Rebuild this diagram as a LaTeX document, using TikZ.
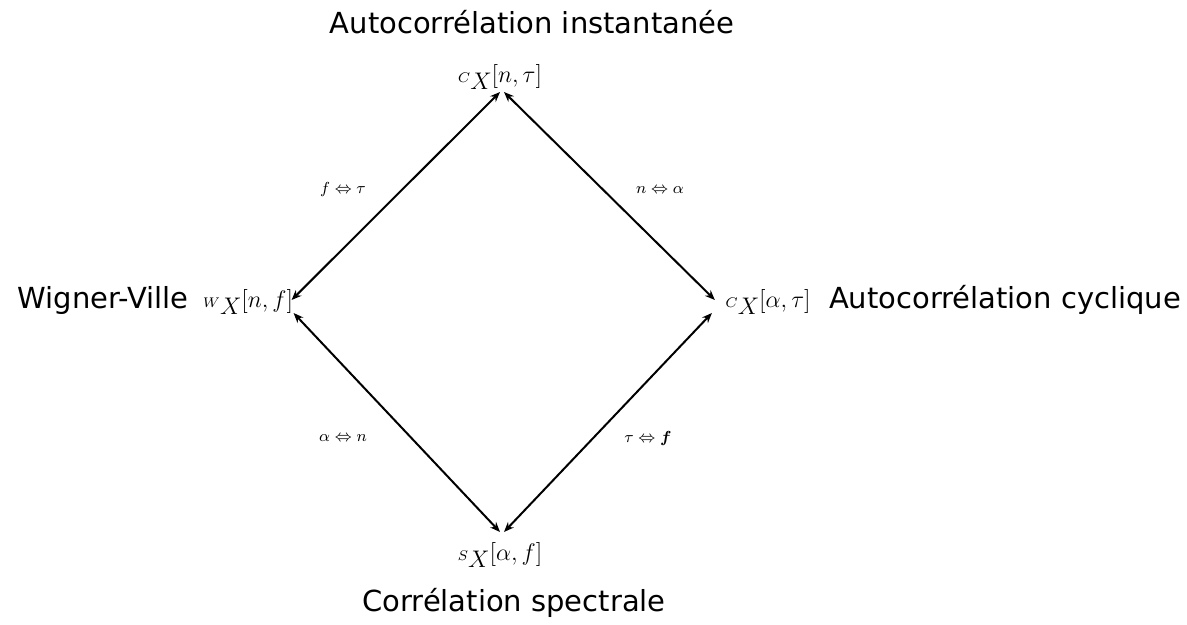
\documentclass[tikz,border=0pt]{standalone}
\usepackage{fontspec}
\usepackage{bm}
\setsansfont{DejaVu Sans}
\usetikzlibrary{arrows.meta,positioning}
\newcommand{\fn}[3]{{\scriptsize$#1$}\raisebox{-0.7ex}{$#2$}$[#3]$}

\begin{document}
\begin{tikzpicture}[
  x=0.5pt,y=-0.5pt,
  every node/.style={inner sep=0pt},
  title/.style={font=\sffamily\fontsize{14.5}{16}\selectfont},
  fun/.style={font=\fontsize{12}{14}\selectfont},
  pair/.style={font=\fontsize{8}{9}\selectfont},
  dbl/.style={{Stealth[length=5pt,width=4pt]}-{Stealth[length=5pt,width=4pt]},line width=1pt}
]
\useasboundingbox (0,0) rectangle (1187,625);
\node[title] (tinst) at (532,22) {Autocorrélation instantanée};
\node[title] (twv) at (103,300) {Wigner-Ville};
\node[title] (tcyc) at (1005,300) {Autocorrélation cyclique};
\node[title] (tspec) at (514,603) {Corrélation spectrale};
\node[fun] (cinst) at (500,77) {\fn{C}{X}{n,\tau}};
\node[fun] (wv) at (248,302) {\fn{W}{X}{n,f}};
\node[fun] (ccyc) at (768,302) {\fn{C}{X}{\alpha,\tau}};
\node[fun] (sspec) at (500,555) {\fn{S}{X}{\alpha,f}};
\node[pair] (ftau) at (343,190) {$f\Leftrightarrow\tau$};
\node[pair] (nalpha) at (660,190) {$n\Leftrightarrow\alpha$};
\node[pair] (alphan) at (343,438) {$\alpha\Leftrightarrow n$};
\node[pair] (tauf) at (648,438) {$\tau\Leftrightarrow\bm{f}$};
\draw[dbl] ([yshift=-1pt]cinst.south) -- ([xshift=-1pt,yshift=1pt]wv.east);
\draw[dbl] ([xshift=2pt,yshift=-1pt]cinst.south) -- ([xshift=-5pt,yshift=1pt]ccyc.west);
\draw[dbl] ([xshift=0pt,yshift=-5.5pt]wv.east) -- ([yshift=5pt]sspec.north);
\draw[dbl] ([xshift=2pt,yshift=5pt]sspec.north) -- ([xshift=-6.5pt,yshift=-5.5pt]ccyc.west);
\end{tikzpicture}
\end{document}
